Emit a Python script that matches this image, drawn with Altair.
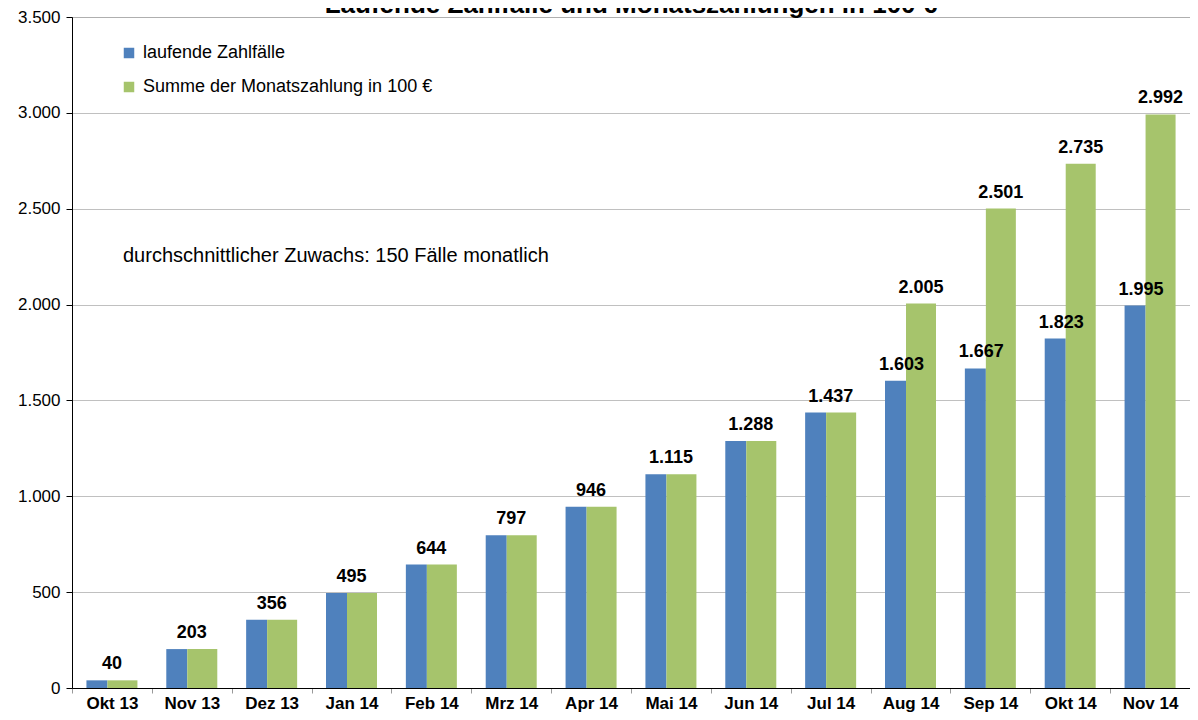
import altair as alt
import pandas as pd

months = ["Okt 13", "Nov 13", "Dez 13", "Jan 14", "Feb 14", "Mrz 14", "Apr 14",
          "Mai 14", "Jun 14", "Jul 14", "Aug 14", "Sep 14", "Okt 14", "Nov 14"]
zahlfaelle = [40, 203, 356, 495, 644, 797, 946, 1115, 1288, 1437, 1603, 1667, 1823, 1995]
monatszahlung = [40, 203, 356, 495, 644, 797, 946, 1115, 1288, 1437, 2005, 2501, 2735, 2992]
green_labeled = ["Aug 14", "Sep 14", "Okt 14", "Nov 14"]
y_ticks = [0, 500, 1000, 1500, 2000, 2500, 3000, 3500]

S1 = "laufende Zahlfälle"
S2 = "Summe der Monatszahlung in 100 €"
TITLE = "Laufende Zahlfälle und Monatszahlungen in 100 €"
NOTE = "durchschnittlicher Zuwachs: 150 Fälle monatlich"

FONT = "Liberation Sans"
BLUE = "#4F81BD"
GREEN = "#A6C46C"
PAD = {"left": 64, "top": 9, "right": 0, "bottom": 24}
W, H = 1118, 671

rows = []
for m, a, b in zip(months, zahlfaelle, monatszahlung):
    rows.append({"month": m, "series": S1, "value": a})
    rows.append({"month": m, "series": S2, "value": b})
df = pd.DataFrame(rows)

fmt = "replace(format(datum.value, ','), ',', '.')"

X = alt.X("month:N", sort=months,
          scale=alt.Scale(paddingInner=0, paddingOuter=0),
          axis=alt.Axis(title=None, labelAngle=0, labelFont=FONT, labelFontSize=17,
                        labelFontWeight="bold", labelColor="black", domainColor="black",
                        domainWidth=1, tickColor="#999999", tickSize=5, tickBand="extent",
                        labelBaseline="alphabetic", labelPadding=15, grid=False))
Y = alt.Y("value:Q", scale=alt.Scale(domain=[0, 3500], nice=False),
          axis=alt.Axis(title=None, values=y_ticks, labelExpr=fmt, labelFont=FONT,
                        labelFontSize=17, labelColor="black", labelPadding=6, tickSize=6,
                        tickColor="black", domainColor="black", gridColor="#808080",
                        gridDash=[1, 1], gridWidth=1))
C = alt.Color("series:N", scale=alt.Scale(domain=[S1, S2], range=[BLUE, GREEN]),
              legend=alt.Legend(orient="none", legendX=48, legendY=27, title=None,
                                symbolType="square", symbolSize=110, symbolStrokeWidth=0,
                                labelFont=FONT, labelFontSize=18, labelColor="black",
                                rowPadding=16, labelLimit=600, labelOffset=5, padding=0,
                                direction="vertical"))

base = alt.Chart(df)

bars_blue = base.transform_filter(alt.datum.series == S1).mark_bar(
    width=21, xOffset=-15).encode(x=X, y=Y, color=C)
bars_green = base.transform_filter(alt.datum.series == S2).mark_bar(
    width=30, xOffset=10.5).encode(x=X, y=Y, color=C)

txt = dict(dy=-11, baseline="alphabetic", fontWeight="bold", fontSize=18,
           font=FONT, color="black")

lab_center = base.transform_filter(alt.datum.series == S1).transform_filter(
    ~alt.FieldOneOfPredicate(field="month", oneOf=green_labeled)
).transform_calculate(lbl=fmt).mark_text(**txt).encode(x=X, y=Y, text="lbl:N")

lab_left = base.transform_filter(alt.datum.series == S1).transform_filter(
    alt.FieldOneOfPredicate(field="month", oneOf=green_labeled)
).transform_calculate(lbl=fmt).mark_text(xOffset=-9, **txt).encode(x=X, y=Y, text="lbl:N")

lab_right = base.transform_filter(alt.datum.series == S2).transform_filter(
    alt.FieldOneOfPredicate(field="month", oneOf=green_labeled)
).transform_calculate(lbl=fmt).mark_text(xOffset=10.5, **txt).encode(x=X, y=Y, text="lbl:N")

title = alt.Chart(pd.DataFrame({"t": [TITLE]})).mark_text(
    font=FONT, fontSize=26, fontWeight="bold", color="black", align="center",
    baseline="alphabetic"
).encode(x=alt.value(W / 2), y=alt.value(-4), text="t:N")

note = alt.Chart(pd.DataFrame({"t": [NOTE]})).mark_text(
    font=FONT, fontSize=20, color="black", align="left", baseline="middle"
).encode(x=alt.value(51), y=alt.value(239), text="t:N")

chart = alt.layer(bars_blue, bars_green, lab_center, lab_left, lab_right, note, title).properties(
    width=W, height=H,
    autosize=alt.AutoSizeParams(type="none"),
    padding=PAD,
).configure_view(stroke=None).configure(background="white")

chart.save("out.html", embed_options={"renderer": "svg", "actions": False})
